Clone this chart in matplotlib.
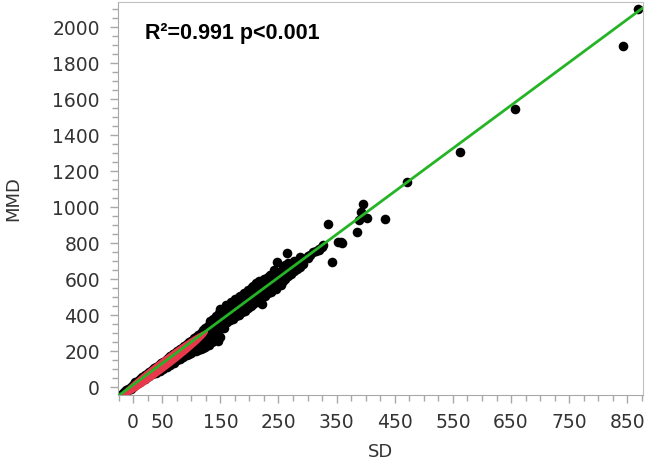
import numpy as np
import matplotlib.pyplot as plt
from matplotlib.ticker import MultipleLocator, FixedLocator

# data titik (SD, MMD)
sd = [-20, -20, -16, -16, -12, -12, -8, -8, -4, -4,
      0, 0, 0, 4, 4, 4, 8, 8, 8, 12, 12, 12, 16, 16, 16, 20, 20, 20,
      24, 24, 24, 28, 28, 28, 32, 32, 32, 36, 36, 36,
      40, 40, 40, 40, 44, 44, 44, 44, 48, 48, 48, 48, 52, 52, 52, 52,
      56, 56, 56, 56, 60, 60, 60, 60, 64, 64, 64, 64, 68, 68, 68, 68,
      72, 72, 72, 72, 76, 76, 76, 76, 80, 80, 80, 80, 84, 84, 84, 84,
      88, 88, 88, 88, 92, 92, 92, 92, 96, 96, 96, 96, 100, 100, 100, 100,
      104, 104, 104, 104, 108, 108, 108, 108, 112, 112, 112, 112,
      116, 116, 116, 116, 120, 120, 120, 120, 124, 124, 124, 124, 128, 128, 128, 128,
      132, 132, 132, 132, 137, 137, 137, 137, 142, 142, 142, 142, 147, 147, 147, 147,
      152, 152, 152, 152, 157, 157, 157, 157, 162, 162, 162, 162, 167, 167, 167, 167,
      172, 172, 172, 172, 177, 177, 177, 177, 182, 182, 182, 182, 187, 187, 187, 187,
      192, 192, 192, 192, 197, 197, 197, 197, 202, 202, 202, 202, 207, 207, 207, 207,
      212, 212, 212, 212, 217, 217, 217, 217, 222, 222, 222, 222, 227, 227, 227, 227,
      232, 232, 232, 232, 237, 237, 237, 237, 242, 242, 242, 242, 247, 247, 247, 247,
      252, 252, 252, 252, 257, 257, 257, 257, 262, 262, 262, 262, 267, 267, 267,
      272, 272, 272, 277, 277, 277, 282, 282, 287, 287, 287, 292, 292, 264,
      300, 300, 305, 310, 315, 320, 320, 325, 327, 335, 342, 352, 358, 360,
      385, 388, 392, 395, 403, 433, 471, 562, 657, 843, 869,
      150, 160, 168, 175, 183, 190, 198, 205, 215, 225, 235, 180, 200, 245, 255,
      140, 148, 156, 110, 118, 96, 86,
      84, 92, 100, 108, 116, 124, 130, 136, 142, 112, 120, 146, 150,
      40, 46, 52, 58, 64, 70, 76, 80]
mmd = [-38, -45, -28, -36, -18, -25, -8, -16, 1, -8,
       12, 4, -2, 21, 13, 26, 30, 22, 35, 40, 30, 44, 50, 38, 55, 58, 47, 65,
       68, 55, 74, 78, 64, 85, 87, 72, 95, 97, 80, 104,
       106, 88, 114, 97, 116, 96, 124, 104, 125, 106, 133, 114, 135, 114, 142, 122,
       144, 121, 152, 131, 154, 130, 162, 140, 164, 138, 171, 148, 173, 147, 181, 156,
       183, 153, 190, 164, 192, 160, 199, 172, 202, 168, 209, 180, 211, 176, 219, 188,
       221, 183, 229, 196, 230, 190, 238, 205, 240, 198, 248, 212, 250, 205, 258, 222,
       259, 212, 270, 230, 268, 220, 281, 238, 278, 228, 292, 246,
       287, 236, 302, 255, 297, 240, 315, 262, 307, 245, 330, 270, 316, 250, 340, 282,
       330, 290, 365, 305, 345, 300, 380, 320, 355, 290, 395, 330, 370, 325, 410, 345,
       380, 335, 420, 355, 395, 345, 430, 365, 400, 360, 445, 375, 415, 370, 455, 390,
       425, 380, 470, 400, 440, 395, 480, 415, 450, 400, 500, 425, 460, 415, 505, 440,
       475, 425, 515, 450, 485, 440, 530, 460, 500, 450, 545, 470, 510, 460, 560, 485,
       520, 470, 580, 495, 535, 475, 590, 505, 545, 460, 575, 520, 555, 505, 600, 530,
       570, 520, 610, 545, 580, 530, 625, 555, 595, 545, 650, 570, 605, 560, 694, 580,
       615, 575, 640, 590, 630, 590, 665, 610, 640, 600, 680, 620, 650, 615, 690,
       665, 630, 678, 675, 645, 700, 690, 655, 700, 670, 722, 710, 685, 744,
       720, 730, 735, 750, 755, 770, 760, 778, 790, 905, 695, 806, 806, 800,
       861, 930, 975, 1015, 939, 933, 1139, 1306, 1544, 1894, 2100,
       435, 455, 470, 490, 505, 520, 540, 555, 580, 600, 625, 470, 500, 545, 565,
       305, 315, 330, 215, 235, 185, 165,
       165, 178, 188, 198, 210, 220, 232, 250, 268, 205, 215, 255, 280,
       80, 90, 100, 112, 124, 136, 148, 155]

# garis regresi (hijau)
fit_sd = [-26, 877]
fit_mmd = [-50, 2108]

# elips kepadatan (merah): pusat, setengah sumbu panjang, setengah tebal vertikal
ell_center = (52, 124)
ell_major = (75, 182)
ell_minor = (0, 34)

xticks = [0, 50, 150, 250, 350, 450, 550, 650, 750, 850]
yticks = [0, 200, 400, 600, 800, 1000, 1200, 1400, 1600, 1800, 2000]

fig = plt.figure(figsize=(6.46, 4.61), dpi=100)
ax = fig.add_axes([0.1827, 0.1432, 0.8127, 0.8525])

ax.scatter(sd, mmd, s=48, color='black', linewidths=0, zorder=2)

t = np.linspace(0, 2 * np.pi, 200)
ex = ell_center[0] + np.cos(t) * ell_major[0] + np.sin(t) * ell_minor[0]
ey = ell_center[1] + np.cos(t) * ell_major[1] + np.sin(t) * ell_minor[1]
ax.fill(ex, ey, color='#e8394c', linewidth=1.5, edgecolor='#e8394c', zorder=3)

ax.plot(fit_sd, fit_mmd, color='#25b425', linewidth=2, zorder=4)

ax.set_xlim(-26, 877)
ax.set_ylim(-44, 2140)

ax.xaxis.set_major_locator(FixedLocator(xticks))
ax.xaxis.set_minor_locator(MultipleLocator(25))
ax.yaxis.set_major_locator(FixedLocator(yticks))
ax.yaxis.set_minor_locator(MultipleLocator(50))

grey = '#a8a8a8'
for s in ax.spines.values():
    s.set_color('#c0c0c0')
ax.spines['left'].set_color(grey)
ax.spines['bottom'].set_color(grey)
ax.tick_params(which='both', color=grey, labelcolor='#333333', labelsize=13.5)
ax.tick_params(which='major', length=6, width=1, pad=7)
ax.tick_params(which='minor', length=4, width=1)

ax.set_xlabel('SD', fontsize=13, color='#333333', labelpad=8)
ax.set_ylabel('MMD', fontsize=13, color='#333333', labelpad=22)

ax.text(0.051, 0.947, 'R²=0.991 p<0.001', transform=ax.transAxes,
        fontsize=15.5, fontweight='bold', family='Liberation Sans', va='top', ha='left')

fig.savefig('out.png', dpi=100)
